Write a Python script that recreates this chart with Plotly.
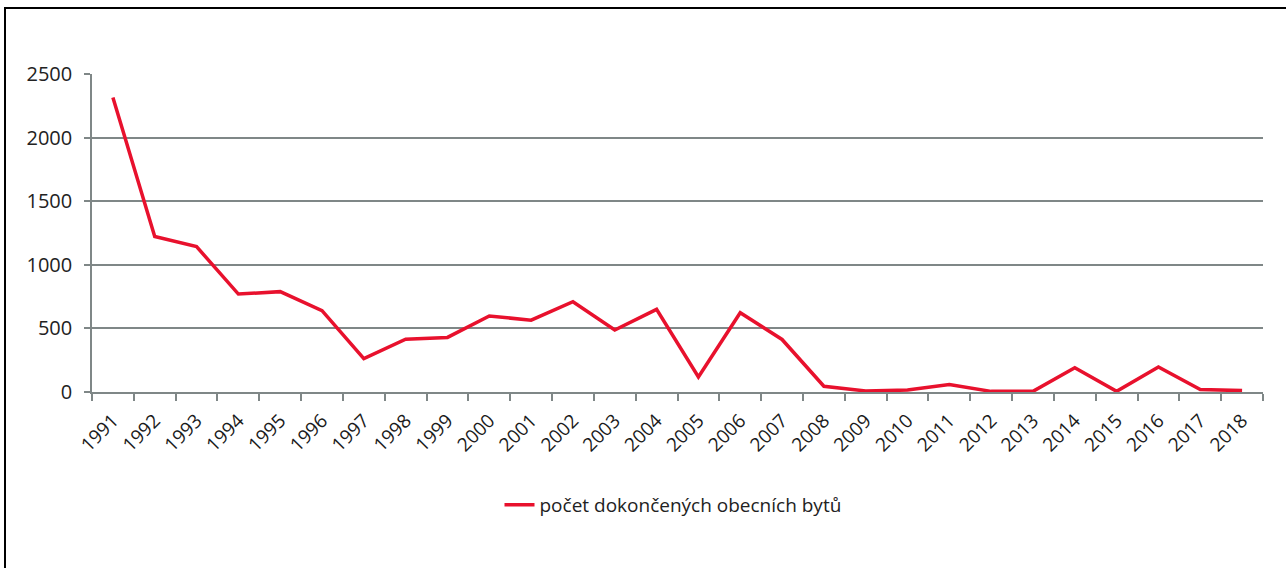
import plotly.graph_objects as go

years = [str(y) for y in range(1991, 2019)]
values = [2315, 1222, 1143, 770, 789, 639, 263, 415, 429, 597, 565, 710, 487, 650,
          118, 623, 413, 45, 8, 15, 58, 5, 5, 190, 5, 197, 19, 11]
series_name = "počet dokončených obecních bytů"
y_ticks = [0, 500, 1000, 1500, 2000, 2500]

W, H = 1286, 568
L, R, T, B = 92, 23, 74, 176
pw, ph = W - L - R, H - T - B

def px_x(px):
    return (px - L) / pw

def px_y(py):
    return (H - B - py) / ph

fig = go.Figure()
fig.add_trace(go.Scatter(
    x=years, y=values, mode="lines", name=series_name,
    line=dict(color="#e8112d", width=3.5),
))

grid = "#7f8787"
fig.update_layout(
    width=W, height=H,
    margin=dict(l=L, r=R, t=T, b=B, pad=0),
    paper_bgcolor="white", plot_bgcolor="white",
    font=dict(family="Open Sans", color="#222222"),
    showlegend=True,
    legend=dict(orientation="h", x=px_x(673), xanchor="center", xref="paper",
                y=px_y(505), yanchor="middle",
                font=dict(size=19, color="#222222"),
                tracegroupgap=0),
    xaxis=dict(
        type="category", tickson="boundaries", ticks="outside", ticklen=7,
        tickcolor=grid, tickwidth=1.5, showline=True, linecolor=grid, linewidth=2,
        showgrid=False, tickangle=-45, tickfont=dict(size=19, color="#1a1a1a"),
        ticklabelstandoff=8,
        range=[-0.5, len(years) - 0.5],
    ),
    yaxis=dict(
        range=[0, 2500], tickvals=y_ticks, ticks="outside", ticklen=6,
        tickcolor=grid, tickwidth=1.5, showline=True, linecolor=grid, linewidth=1.5,
        showgrid=True, gridcolor=grid, gridwidth=2, zeroline=False,
        tickfont=dict(size=20, color="#222222"), ticklabelstandoff=8,
    ),
    shapes=[dict(type="rect", xref="paper", yref="paper",
                 x0=px_x(5), x1=px_x(1300), y0=px_y(580), y1=px_y(8),
                 line=dict(color="black", width=2), fillcolor="rgba(0,0,0,0)",
                 layer="below")],
)

fig.write_html("out.html")
